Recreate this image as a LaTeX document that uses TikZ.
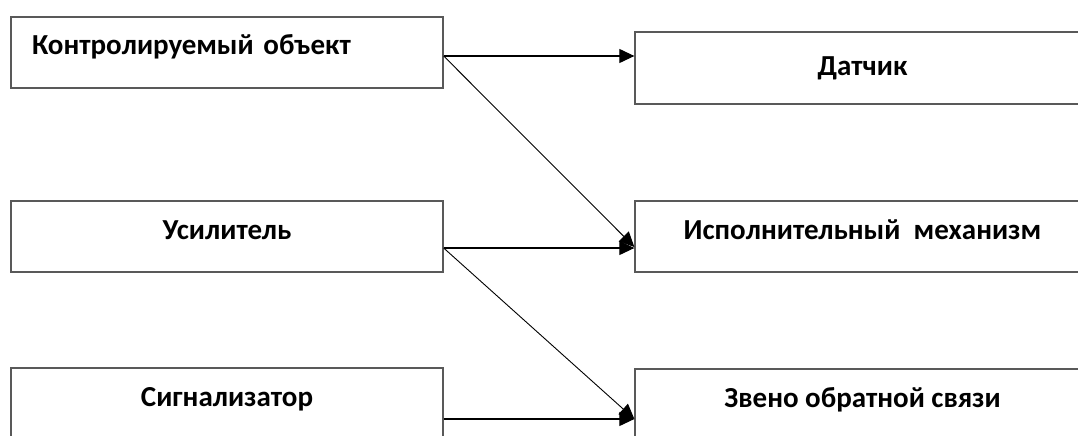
\documentclass[tikz,border=0pt]{standalone}
\usepackage{fontspec}
\setmainfont{Carlito}
\usetikzlibrary{arrows.meta}

\begin{document}
\begin{tikzpicture}[x=1pt, y=-1pt,
  box/.style={draw=black!65, line width=1.3pt, minimum width=432pt, inner ysep=0pt,
    text height=38pt, text depth=33pt, font=\fontsize{29}{34}\selectfont\bfseries},
  rbox/.style={box, minimum width=455pt},
  arr/.style={line width=1.1pt, -{Triangle[length=15pt, width=14pt]}}]

\clip (0,0) rectangle (1078,436);

\node[box, text width=390pt, inner xsep=21pt, align=left] (ctrl) at (227,52.5) {Контролируемый объект};
\node[box] (amp) at (227,236.5) {Усилитель};
\node[box] (signal) at (227,403.5) {Сигнализатор};

\node[rbox, text height=43pt, text depth=29pt] (sensor) at (862.5,68) {Датчик};
\node[rbox] (actuator) at (862.5,236.5) {Исполнительный\ \ механизм};
\node[rbox] (feedback) at (862.5,404.5) {Звено обратной связи};

\coordinate (ctrl-out) at ([yshift=-3.5pt]ctrl.east);
\coordinate (amp-out) at ([yshift=-11.5pt]amp.east);
\coordinate (signal-out) at ([yshift=-15.5pt]signal.east);

\draw[arr] (ctrl-out) -- (ctrl-out -| sensor.west);
\draw[arr, line width=0.9pt] (ctrl-out) -- ([yshift=-10.5pt]actuator.west);
\draw[arr] (amp-out) -- (amp-out -| actuator.west);
\draw[arr, line width=0.9pt] (amp-out) -- ([yshift=-14.5pt]feedback.west);
\draw[arr] (signal-out) -- (signal-out -| feedback.west);

\end{tikzpicture}
\end{document}
